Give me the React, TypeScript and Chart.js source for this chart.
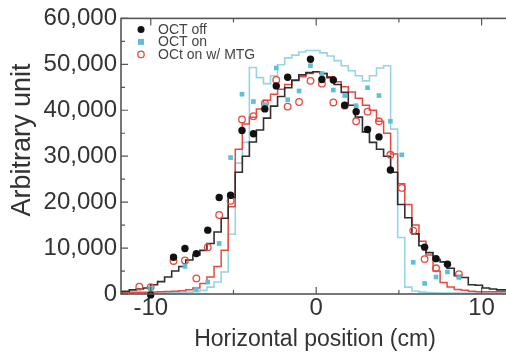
import React, { useEffect, useRef } from 'react';
import { Chart, registerables } from 'chart.js';

Chart.register(...registerables);

// ---- data ----
const seriesLabels = ['OCT off', 'OCT on', 'OCt on w/ MTG'];

const histX = [
  -11.94, -11.51, -11.09, -10.66, -10.23, -9.8, -9.38, -8.95, -8.52, -8.1,
  -7.67, -7.24, -6.82, -6.39, -5.96, -5.53, -5.11, -4.68, -4.25, -3.83,
  -3.4, -2.97, -2.55, -2.12, -1.69, -1.26, -0.84, -0.41, 0.02, 0.44,
  0.87, 1.3, 1.73, 2.15, 2.58, 3.01, 3.43, 3.86, 4.29, 4.71,
  5.14, 5.57, 6.0, 6.42, 6.85, 7.28, 7.7, 8.13, 8.56, 8.98,
  9.41, 9.84, 10.27, 10.69, 11.12, 11.55, 11.97,
];

const histOff = [
  500, 600, 900, 1100, 1300, 2000, 2700, 3700, 5000, 6000,
  7400, 8500, 9500, 11000, 13500, 16500, 21000, 26500, 30000, 33100,
  35700, 38300, 40900, 43000, 44900, 46500, 47700, 48200, 48400, 48000,
  47100, 45600, 43900, 41100, 38500, 35300, 33000, 31500, 30000, 26500,
  19500, 16600, 13100, 10500, 9000, 7500, 7000, 5600, 4000, 3600,
  2000, 1900, 1300, 1100, 900, 900, 700,
];

const histOn = [
  200, 200, 200, 200, 200, 200, 200, 250, 300, 300,
  400, 500, 800, 1500, 2600, 4800, 13000, 28500, 33000, 49300,
  47100, 45800, 47500, 49900, 51400, 52000, 52700, 53000, 53000, 52500,
  51800, 50800, 49700, 48600, 47500, 46400, 47500, 49200, 49700, 35900,
  12300, 1500, 650, 400, 300, 250, 200, 200, 200, 200,
  200, 200, 200, 200, 200, 200, 200,
];

const histMtg = [
  400, 400, 400, 400, 400, 450, 500, 550, 600, 700,
  900, 1300, 2300, 3700, 6000, 9500, 19000, 31500, 37000, 38500,
  40300, 42200, 43500, 44600, 45600, 46600, 47300, 48000, 48400, 48000,
  47300, 46200, 45100, 44000, 42600, 41100, 40000, 37600, 35000, 30500,
  24000, 19500, 15000, 11500, 8500, 5000, 2500, 1500, 1000, 800,
  600, 500, 500, 500, 500, 500, 500,
];

const pointX = [
  -10.695, -10.005, -9.315, -8.625, -7.935, -7.245, -6.555, -5.865,
  -5.175, -4.485, -3.795, -3.105, -2.415, -1.725, -1.035, -0.345,
  0.345, 1.035, 1.725, 2.415, 3.105, 3.795, 4.485, 5.175,
  5.865, 6.555, 7.245, 7.935, 8.625, 9.315, 10.005, 10.695,
];

const ptsOff = [
  null, -200, null, 8000, 9900, 8800, 13900, 21000,
  21500, 35600, 34900, 40300, 45300, 47200, null, 51100,
  46700, 46600, 41100, 39700, 35800, 34200, 27000, null,
  null, 10200, 7700, 6500, null, null, null, null,
];

const ptsOn = [
  null, 1200, null, null, 6000, 1000, 2600, 11000,
  29700, 43500, 41900, 41200, 49200, 42300, 44200, 49700,
  48000, 44400, 43200, 41000, 44900, 43200, 37600, 30300,
  6900, 2300, 3700, 4800, 3600, null, null, null,
];

const ptsMtg = [
  1600, 1500, null, 7200, 7300, 3400, 10200, 17200,
  20300, 38000, 38700, 41500, 46600, 40800, 41800, 46400,
  45800, 41700, 41000, 37600, 39700, 37600, 30300, 23100,
  13800, 7600, 5600, null, 4300, null, null, null,
];

const yTicks = [0, 10000, 20000, 30000, 40000, 50000, 60000];
const xTicks = [-10, 0, 10];
const xMinorTicks = [-5, 5];
const xTitle = 'Horizontal position (cm)';
const yTitle = 'Arbitrary unit';

// ---- styles ----
const FONT = "'Liberation Sans', Arial, sans-serif";
const AXIS = '#555';
const TEXT = '#333';
const C_OFF_LINE = '#2e2e2e';
const C_OFF_PT = '#111';
const C_ON_LINE = '#95d5e7';
const C_ON_PT = '#5ebfd8';
const C_MTG = '#e8493f';

const zip = (xs: number[], ys: (number | null)[]) => xs.map((x, i) => ({ x, y: ys[i] }));

const framePlugin = {
  id: 'frameAndExtras',
  afterDraw(chart: any) {
    const { ctx, chartArea, scales } = chart;
    const { left, right, top, bottom } = chartArea;
    const xs = scales.x;
    const ys = scales.y;
    ctx.save();
    ctx.strokeStyle = AXIS;
    ctx.lineWidth = 1.6;
    ctx.strokeRect(left, top, right - left, bottom - top);

    ctx.lineWidth = 1.2;
    const minorY = yTicks.slice(1).map((v, i) => (v + yTicks[i]) / 2);
    const drawY = (v: number, len: number) => {
      const py = ys.getPixelForValue(v);
      ctx.beginPath();
      ctx.moveTo(left, py);
      ctx.lineTo(left + len, py);
      ctx.moveTo(right, py);
      ctx.lineTo(right - len, py);
      ctx.stroke();
    };
    yTicks.forEach((v) => drawY(v, 7));
    minorY.forEach((v) => drawY(v, 4));
    const drawX = (v: number, len: number) => {
      const px = xs.getPixelForValue(v);
      ctx.beginPath();
      ctx.moveTo(px, bottom);
      ctx.lineTo(px, bottom - len);
      ctx.moveTo(px, top);
      ctx.lineTo(px, top + len);
      ctx.stroke();
    };
    xTicks.forEach((v) => drawX(v, 7));
    xMinorTicks.forEach((v) => drawX(v, 4));

    // legend
    const lx = left + 20;
    const ly0 = top + 11;
    const step = 12.5;
    ctx.font = `14px ${FONT}`;
    ctx.textBaseline = 'middle';
    ctx.textAlign = 'left';
    seriesLabels.forEach((label, i) => {
      const y = ly0 + i * step;
      if (i === 0) {
        ctx.fillStyle = C_OFF_PT;
        ctx.beginPath();
        ctx.arc(lx, y, 3.5, 0, Math.PI * 2);
        ctx.fill();
      } else if (i === 1) {
        ctx.fillStyle = C_ON_PT;
        ctx.fillRect(lx - 3, y - 3, 6, 6);
      } else {
        ctx.strokeStyle = C_MTG;
        ctx.lineWidth = 1.3;
        ctx.beginPath();
        ctx.arc(lx, y, 3.2, 0, Math.PI * 2);
        ctx.stroke();
      }
      ctx.fillStyle = '#444';
      ctx.fillText(label, lx + 17, y + 0.5);
    });

    // axis titles
    ctx.fillStyle = TEXT;
    ctx.font = `23px ${FONT}`;
    ctx.textAlign = 'center';
    ctx.textBaseline = 'middle';
    ctx.fillText(xTitle, 315, 340);
    ctx.save();
    ctx.translate(23, 140);
    ctx.rotate(-Math.PI / 2);
    ctx.font = `27px ${FONT}`;
    ctx.fillText(yTitle, 0, 0);
    ctx.restore();
    ctx.restore();
  },
};

export default function App() {
  const ref = useRef<HTMLCanvasElement | null>(null);

  useEffect(() => {
    if (!ref.current) return;
    const chart = new Chart(ref.current, {
      type: 'line',
      data: {
        datasets: [
          {
            label: seriesLabels[0],
            data: zip(pointX, ptsOff) as any,
            showLine: false,
            pointStyle: 'circle',
            pointRadius: 3.7,
            pointBackgroundColor: C_OFF_PT,
            pointBorderColor: C_OFF_PT,
            pointBorderWidth: 0,
            clip: false as any,
            order: 0,
          },
          {
            label: seriesLabels[1],
            data: zip(pointX, ptsOn) as any,
            showLine: false,
            pointStyle: 'rect',
            pointRadius: 3.3,
            pointBackgroundColor: C_ON_PT,
            pointBorderColor: C_ON_PT,
            pointBorderWidth: 0,
            clip: false as any,
            order: 1,
          },
          {
            label: seriesLabels[2],
            data: zip(pointX, ptsMtg) as any,
            showLine: false,
            pointStyle: 'circle',
            pointRadius: 3.3,
            pointBackgroundColor: 'rgba(255,255,255,0)',
            pointBorderColor: C_MTG,
            pointBorderWidth: 1.3,
            clip: false as any,
            order: 2,
          },
          {
            label: seriesLabels[0] + ' sim',
            data: zip(histX, histOff) as any,
            stepped: 'middle',
            borderColor: C_OFF_LINE,
            borderWidth: 1.6,
            pointRadius: 0,
            fill: false,
            order: 3,
          },
          {
            label: seriesLabels[2] + ' sim',
            data: zip(histX, histMtg) as any,
            stepped: 'middle',
            borderColor: C_MTG,
            borderWidth: 1.5,
            pointRadius: 0,
            fill: false,
            order: 4,
          },
          {
            label: seriesLabels[1] + ' sim',
            data: zip(histX, histOn) as any,
            stepped: 'middle',
            borderColor: C_ON_LINE,
            borderWidth: 1.6,
            pointRadius: 0,
            fill: false,
            order: 5,
          },
        ],
      },
      options: {
        responsive: false,
        animation: false,
        events: [],
        layout: { padding: { left: 0, right: 4, top: 15, bottom: 0 } },
        plugins: {
          legend: { display: false },
          tooltip: { enabled: false },
        },
        scales: {
          x: {
            type: 'linear',
            min: -11.8,
            max: 12,
            grid: { display: false, drawTicks: false },
            border: { display: false },
            afterBuildTicks: (scale: any) => {
              scale.ticks = xTicks.map((v) => ({ value: v }));
            },
            afterFit: (scale: any) => {
              scale.height = 59;
            },
            ticks: {
              padding: 0,
              color: TEXT,
              font: { family: FONT, size: 24 },
              maxRotation: 0,
              autoSkip: false,
              callback: (v: any) => String(v),
            },
          },
          y: {
            type: 'linear',
            min: 0,
            max: 60000,
            grid: { display: false, drawTicks: false },
            border: { display: false },
            afterBuildTicks: (scale: any) => {
              scale.ticks = yTicks.map((v) => ({ value: v }));
            },
            afterFit: (scale: any) => {
              scale.width = 121;
            },
            ticks: {
              padding: 4,
              color: TEXT,
              font: { family: FONT, size: 24 },
              callback: (v: any) => Number(v).toLocaleString('en-US'),
            },
          },
        },
      },
      plugins: [framePlugin],
    });
    return () => chart.destroy();
  }, []);

  return (
    <div
      style={{
        position: 'fixed',
        left: 0,
        top: 0,
        width: 506,
        height: 353,
        overflow: 'hidden',
        background: '#fff',
      }}
    >
      <canvas ref={ref} width={520} height={353} style={{ display: 'block', width: 520, height: 353 }} />
    </div>
  );
}
